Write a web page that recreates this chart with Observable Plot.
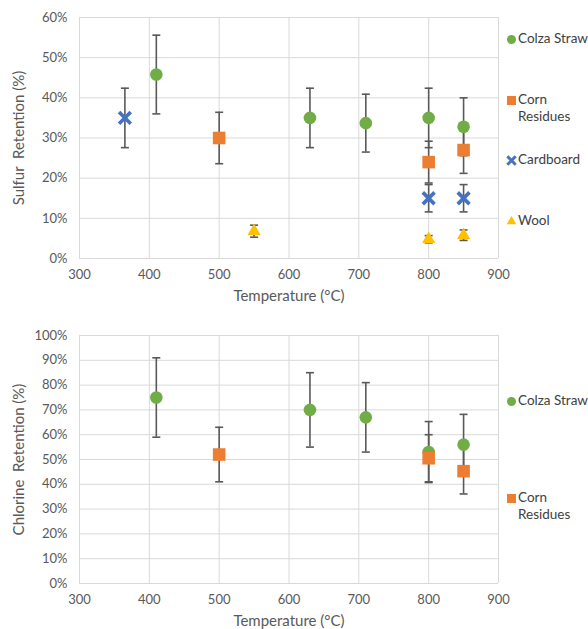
<!DOCTYPE html>
<html><head><meta charset="utf-8">
<script src="https://cdn.jsdelivr.net/npm/d3@7"></script>
<script src="https://cdn.jsdelivr.net/npm/@observablehq/plot@0.6"></script>
<style>
body{margin:0;background:#fff;font-family:Lato,"Open Sans",sans-serif;}
#c{position:relative;width:588px;height:629px;overflow:hidden;background:#fff}
#c > svg{position:absolute;left:0}
.leg{position:absolute;font-size:13.5px;color:#404040;line-height:17px;display:flex;align-items:flex-start;white-space:nowrap}
.leg svg{flex:none;margin-top:4px;margin-right:1px}
</style></head><body><div id="c"></div>
<script>
// ---- Data (values in %) ----
const xTicks = [300, 400, 500, 600, 700, 800, 900];
const sulfurTicks = [0, 10, 20, 30, 40, 50, 60];
const chlorineTicks = [0, 10, 20, 30, 40, 50, 60, 70, 80, 90, 100];

const seriesNames = ["Colza Straw", "Corn Residues", "Cardboard", "Wool"];

// Sulfur retention
const sColzaT = [410, 630, 710, 800, 850];
const sColzaV = [45.8, 35, 33.7, 35, 32.8];
const sColzaE = [9.8, 7.4, 7.2, 7.4, 7.2];
const sCornT = [500, 800, 850];
const sCornV = [30, 24, 27];
const sCornE = [6.4, 5.2, 5.8];
const sCardT = [365, 800, 850];
const sCardV = [35, 15, 15];
const sCardE = [7.4, 3.4, 3.4];
const sWoolT = [550, 800, 850];
const sWoolV = [6.8, 4.8, 5.8];
const sWoolE = [1.5, 0.9, 1.3];

// Chlorine retention
const cColzaT = [410, 630, 710, 800, 850];
const cColzaV = [75, 70, 67, 53, 56];
const cColzaE = [16, 15, 14, 12.3, 12.2];
const cCornT = [500, 800, 850];
const cCornV = [52, 50.5, 45.3];
const cCornE = [11, 9.5, 9.2];

// ---- Styles ----
const styles = {
  "Colza Straw": {symbol: "circle", fill: "#70ad47", r: 6.3},
  "Corn Residues": {symbol: "square", fill: "#ed7d31", r: 7.1},
  "Cardboard": {symbol: "times", stroke: "#4472c4", r: 5.4, strokeWidth: 3.6},
  "Wool": {symbol: "triangle", fill: "#ffc000", r: 4.9}
};

const rows = (series, T, V, E) => T.map((t, i) => ({series, t, v: V[i], e: E[i]}));

const cap = {draw(ctx) { ctx.moveTo(-4, 0); ctx.lineTo(4, 0); }};

function chart({data, yTicks, yLabel, top, marginTop, height}) {
  const marks = [
    Plot.gridX(xTicks, {stroke: "#d9d9d9", strokeOpacity: 1, strokeWidth: 1}),
    Plot.gridY(yTicks, {stroke: "#d9d9d9", strokeOpacity: 1, strokeWidth: 1}),
    Plot.axisX(xTicks, {tickSize: 0, tickPadding: 11, fontSize: 13, label: "Temperature (°C)", labelAnchor: "center", labelOffset: 42, labelArrow: "none"}),
    Plot.axisY(yTicks, {tickSize: 0, tickPadding: 12, fontSize: 13, tickFormat: d => d + "%", label: yLabel, labelAnchor: "center", labelOffset: 66, labelArrow: "none"}),
    Plot.ruleX(data, {x: "t", y1: d => d.v - d.e, y2: d => d.v + d.e, stroke: "#595959", strokeWidth: 1.6}),
    Plot.dot(data, {x: "t", y: d => d.v + d.e, symbol: cap, stroke: "#595959", strokeWidth: 1.6, r: 4}),
    Plot.dot(data, {x: "t", y: d => d.v - d.e, symbol: cap, stroke: "#595959", strokeWidth: 1.6, r: 4})
  ];
  for (const name of seriesNames) {
    const s = styles[name];
    const sub = data.filter(d => d.series === name);
    if (!sub.length) continue;
    marks.push(Plot.dot(sub, {
      x: "t", y: "v", symbol: s.symbol, r: s.r,
      fill: s.fill || "none", stroke: s.stroke || "none", strokeWidth: s.strokeWidth || 0, fillOpacity: 1
    }));
  }
  const svg = Plot.plot({
    width: 520, height,
    marginLeft: 79, marginRight: 22, marginTop, marginBottom: 50,
    style: {fontFamily: "Lato, 'Open Sans', sans-serif", fontSize: "13px", color: "#595959", background: "transparent", overflow: "visible"},
    x: {domain: [300, 900]},
    y: {domain: [yTicks[0], yTicks[yTicks.length - 1]]},
    marks
  });
  svg.querySelectorAll('[aria-label="x-axis label"], [aria-label="y-axis label"]').forEach(g => {
    g.setAttribute("font-size", 15);
    g.style.fontSize = "15px";
    g.querySelectorAll("text").forEach(t => t.style.fontSize = "15px");
  });
  svg.style.top = top + "px";
  return svg;
}

const c = document.getElementById("c");

const sulfurData = [
  ...rows("Colza Straw", sColzaT, sColzaV, sColzaE),
  ...rows("Corn Residues", sCornT, sCornV, sCornE),
  ...rows("Cardboard", sCardT, sCardV, sCardE),
  ...rows("Wool", sWoolT, sWoolV, sWoolE)
];
const chlorineData = [
  ...rows("Colza Straw", cColzaT, cColzaV, cColzaE),
  ...rows("Corn Residues", cCornT, cCornV, cCornE)
];

c.appendChild(chart({data: sulfurData, yTicks: sulfurTicks, yLabel: "Sulfur\u00a0 Retention (%)", top: 0, marginTop: 17, height: 308}));
c.appendChild(chart({data: chlorineData, yTicks: chlorineTicks, yLabel: "Chlorine\u00a0 Retention (%)", top: 310, marginTop: 25, height: 323}));

// ---- Legends ----
function legendItem(name, left, top) {
  const s = styles[name];
  const div = document.createElement("div");
  div.className = "leg";
  div.style.left = left + "px";
  div.style.top = top + "px";
  const ns = "http://www.w3.org/2000/svg";
  const sv = document.createElementNS(ns, "svg");
  sv.setAttribute("width", 11); sv.setAttribute("height", 11);
  const p = document.createElementNS(ns, "path");
  const symMap = {circle: d3.symbolCircle, square: d3.symbolSquare, times: d3.symbolTimes, triangle: d3.symbolTriangle};
  const scale = 0.72;
  p.setAttribute("d", d3.symbol(symMap[s.symbol], Math.PI * (s.r * scale) ** 2)());
  p.setAttribute("transform", "translate(5.5,5.5)");
  p.setAttribute("fill", s.fill || "none");
  p.setAttribute("stroke", s.stroke || "none");
  if (s.strokeWidth) p.setAttribute("stroke-width", 3);
  sv.appendChild(p);
  div.appendChild(sv);
  const t = document.createElement("span");
  t.innerHTML = name.replace(" Residues", "<br>Residues");
  div.appendChild(t);
  c.appendChild(div);
}
legendItem("Colza Straw", 506, 30);
legendItem("Corn Residues", 506, 91);
legendItem("Cardboard", 506, 151);
legendItem("Wool", 506, 212);
legendItem("Colza Straw", 506, 392);
legendItem("Corn Residues", 506, 489);
</script>
</body></html>
